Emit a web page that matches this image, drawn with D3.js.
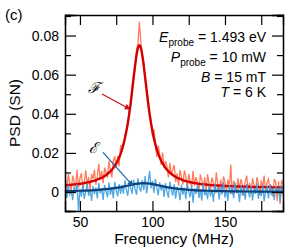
<!DOCTYPE html>
<meta charset="utf-8">
<style>
body { margin: 0; background: #fff; }
text { font-family: "Liberation Sans", Arial, sans-serif; }
.axis path { stroke: #000; stroke-width: 1.3; }
.axis line { stroke: #000; stroke-width: 1.2; }
.axis text { font-size: 14px; fill: #000; }
</style>
<body>
<script src="https://cdn.jsdelivr.net/npm/d3@7"></script>
<script>

// frequency grid (MHz)
var freq = [40,41,42,43,44,45,46,47,48,49,50,51,52,53,54,55,56,57,58,59,
  60,61,62,63,64,65,66,67,68,69,70,71,72,73,74,75,76,77,78,79,
  80,81,82,83,84,85,86,87,88,89,90,91,92,93,94,95,96,97,98,99,
  100,101,102,103,104,105,106,107,108,109,110,111,112,113,114,115,116,117,118,119,
  120,121,122,123,124,125,126,127,128,129,130,131,132,133,134,135,136,137,138,139,
  140,141,142,143,144,145,146,147,148,149,150,151,152,153,154,155,156,157,158,159,
  160,161,162,163,164,165,166,167,168,169,170,171,172,173,174,175,176,177,178,179,
  180,181,182,183,184,185,186,187,188,189,190];

// F : measured PSD (light red)
var psdF = [.0070,.0010,.0093,.0044,.0006,.0084,.0054,.0026,.0113,.0020,
  .0070,.0096,.0009,.0052,.0111,.0032,.0077,.0010,.0092,.0067,
  .0113,.0037,.0081,.0144,.0062,.0107,.0045,.0125,.0101,.0073,
  .0159,.0109,.0075,.0159,.0183,.0124,.0185,.0131,.0236,.0237,
  .0230,.0290,.0318,.0340,.0418,.0445,.0540,.0600,.0630,.0725,
  .0760,.0870,.0765,.0690,.0665,.0570,.0530,.0478,.0390,.0368,
  .0285,.0321,.0254,.0181,.0237,.0193,.0139,.0202,.0123,.0158,
  .0132,.0075,.0149,.0086,.0115,.0139,.0050,.0095,.0032,.0112,
  .0077,.0039,.0110,.0081,.0020,.0093,.0054,.0021,.0109,.0031,
  .0076,.0051,.0001,.0089,.0061,.0021,.0075,.0003,.0092,.0042,
  .0012,.0074,.0049,-.0009,.0101,.0040,.0005,.0064,.0015,.0080,
  .0053,-.0005,.0064,.0020,.0140,-.0012,.0056,.0037,-.0003,.0070,
  .0014,.0066,.0038,-.0019,.0056,.0083,.0002,.0047,-.0010,.0072,
  .0033,-.0005,.0076,.0043,-.0017,.0060,.0019,.0084,-.0004,.0049,
  .0066,.0004,.0037,-.0024,.0067,.0049,-.0046,.0055,-.0061,.0060,.0038];

// F : fit (dark red)
var fitF = [.0035,.0035,.0036,.0036,.0037,.0038,.0039,.0039,.0040,.0041,
  .0042,.0043,.0045,.0046,.0047,.0049,.0050,.0052,.0054,.0056,
  .0058,.0061,.0064,.0067,.0070,.0073,.0077,.0082,.0087,.0093,
  .0099,.0106,.0114,.0123,.0134,.0146,.0160,.0176,.0195,.0217,
  .0244,.0275,.0310,.0352,.0401,.0456,.0519,.0584,.0645,.0699,
  .0737,.0750,.0737,.0699,.0645,.0584,.0519,.0456,.0401,.0352,
  .0310,.0275,.0244,.0217,.0195,.0176,.0160,.0146,.0134,.0123,
  .0114,.0106,.0099,.0093,.0087,.0082,.0077,.0073,.0070,.0067,
  .0064,.0061,.0058,.0056,.0054,.0052,.0050,.0049,.0047,.0046,
  .0045,.0043,.0042,.0041,.0040,.0039,.0039,.0038,.0037,.0036,
  .0036,.0035,.0035,.0034,.0034,.0033,.0033,.0032,.0032,.0031,
  .0031,.0031,.0030,.0030,.0030,.0029,.0029,.0029,.0029,.0028,
  .0028,.0028,.0028,.0027,.0027,.0027,.0027,.0027,.0026,.0026,
  .0026,.0026,.0026,.0026,.0025,.0025,.0025,.0025,.0025,.0025,
  .0025,.0025,.0024,.0024,.0024,.0024,.0024,.0024,.0024,.0024,.0024];

// E : measured PSD (light blue)
var psdE = [.0021,-.0030,.0035,-.0012,.0008,-.0041,.0029,-.0005,.0040,-.0096,
  .0018,-.0024,.0032,-.0035,.0003,.0044,-.0020,.0015,-.0046,.0030,
  -.0011,.0024,-.0033,.0047,-.0006,.0019,-.0040,.0036,.0004,-.0027,
  .0049,-.0015,.0026,-.0031,.0052,.0009,-.0022,.0041,-.0010,.0035,
  -.0008,.0060,.0012,-.0019,.0055,.0020,-.0009,.0064,.0016,-.0014,
  .0070,.0023,.0002,.0061,.0010,.0082,-.0007,.0045,.0108,.0019,
  .0057,-.0004,.0066,.0021,-.0016,.0050,.0008,.0039,-.0025,.0046,
  .0002,-.0029,.0053,.0011,-.0018,.0040,-.0034,.0027,.0005,-.0042,
  .0038,-.0013,.0022,-.0037,.0043,.0001,-.0026,.0031,-.0055,.0020,
  -.0009,.0037,-.0030,.0014,-.0044,.0046,-.0017,.0007,-.0036,.0033,
  -.0022,.0016,-.0049,.0042,-.0003,.0025,-.0038,.0030,-.0014,.0051,
  -.0029,.0010,-.0045,.0036,-.0011,.0028,-.0032,.0047,-.0006,.0017,
  -.0052,.0034,-.0018,.0024,-.0039,.0041,.0004,-.0027,.0031,-.0043,
  .0020,-.0010,.0044,-.0035,.0013,-.0021,.0038,-.0048,.0009,.0026,
  -.0033,.0040,-.0016,.0018,-.0041,.0032,-.0008,.0023,-.0050,.0036,-.0012];

// E : fit (dark blue)
var fitEfreq = [40,50,60,70,75,80,85,90,94,98,103,108,113,118,128,138,148,160,175,190];
var fitE = [.00045,.00065,.00099,.00162,.00213,.0028,.0036,.00429,.0045,.00429,
  .0036,.0028,.00213,.00162,.00099,.00065,.00045,.00031,.00021,.00015];

var xMajor = [50,75,100,125,150,175];
var xLabels = [50,100,150];
var yMajor = [0,0.02,0.04,0.06,0.08];
var yMinor = [0.01,0.03,0.05,0.07,0.09];

var margin = {top: 15, right: 11, bottom: 39, left: 65},
    width = 294 - margin.left - margin.right,
    height = 250 - margin.top - margin.bottom;

var svg = d3.select("body").append("svg")
    .attr("width", 294)
    .attr("height", 250)
  .append("g")
    .attr("transform", "translate(" + margin.left + "," + margin.top + ")");

var x = d3.scaleLinear().domain([39.7, 190]).range([0, width]);
var y = d3.scaleLinear().domain([-0.0097, 0.0905]).range([height, 0]);

svg.append("clipPath").attr("id", "clip")
  .append("rect").attr("width", width).attr("height", height);

var plot = svg.append("g").attr("clip-path", "url(#clip)");

function line(xs, ys, curve) {
  return d3.line()
    .x(function(d, i) { return x(xs[i]); })
    .y(function(d, i) { return y(ys[i]); })
    .curve(curve || d3.curveLinear)(ys);
}

plot.append("path").attr("d", line(freq, psdF))
  .attr("fill", "none").attr("stroke", "#ff7b5c").attr("stroke-width", 1.3);
plot.append("path").attr("d", line(freq, fitF, d3.curveMonotoneX))
  .attr("fill", "none").attr("stroke", "#d40000").attr("stroke-width", 2.4);
plot.append("path").attr("d", line(freq, psdE))
  .attr("fill", "none").attr("stroke", "#3d9ede").attr("stroke-width", 1.3)
  .attr("stroke-opacity", 0.9);
plot.append("path").attr("d", line(fitEfreq, fitE, d3.curveMonotoneX))
  .attr("fill", "none").attr("stroke", "#0e3f78").attr("stroke-width", 2.2);

// axes, ticks pointing inward on all four sides
svg.append("g").attr("class", "axis")
  .attr("transform", "translate(0," + height + ")")
  .call(d3.axisBottom(x).tickValues(xMajor).tickSize(-10).tickPadding(6)
    .tickFormat(function(d) { return xLabels.indexOf(d) >= 0 ? d : ""; }));
svg.append("g").attr("class", "axis")
  .call(d3.axisTop(x).tickValues(xMajor).tickSize(-10).tickFormat(""));
svg.append("g").attr("class", "axis")
  .call(d3.axisLeft(y).tickValues(yMajor).tickSize(-11).tickPadding(6)
    .tickFormat(function(d) { return d === 0 ? "0" : d3.format(".2f")(d); }));
svg.append("g").attr("class", "axis")
  .call(d3.axisLeft(y).tickValues(yMinor).tickSize(-6).tickFormat(""));
svg.append("g").attr("class", "axis")
  .attr("transform", "translate(" + width + ",0)")
  .call(d3.axisRight(y).tickValues(yMajor).tickSize(-11).tickFormat(""));
svg.append("g").attr("class", "axis")
  .attr("transform", "translate(" + width + ",0)")
  .call(d3.axisRight(y).tickValues(yMinor).tickSize(-6).tickFormat(""));

svg.append("text")
  .attr("x", width / 2).attr("y", height + 33)
  .attr("text-anchor", "middle").style("font-size", "15.5px")
  .text("Frequency (MHz)");
svg.append("text")
  .attr("transform", "translate(-45," + (height / 2) + ") rotate(-90)")
  .attr("text-anchor", "middle").style("font-size", "15.5px")
  .text("PSD (SN)");
svg.append("text")
  .attr("x", -60).attr("y", 5)
  .style("font-size", "15px")
  .text("(c)");

// parameters
var params = svg.append("g").attr("transform", "translate(" + x(178.3) + ",0)")
  .style("font-size", "14px").attr("text-anchor", "end");
var t1 = params.append("text").attr("y", 27);
t1.append("tspan").style("font-style", "italic").text("E");
t1.append("tspan").attr("dy", 4).style("font-size", "10px").text("probe");
t1.append("tspan").attr("dy", -4).text(" = 1.493 eV");
var t2 = params.append("text").attr("y", 47);
t2.append("tspan").style("font-style", "italic").text("P");
t2.append("tspan").attr("dy", 4).style("font-size", "10px").text("probe");
t2.append("tspan").attr("dy", -4).text(" = 10 mW");
var t3 = params.append("text").attr("y", 67);
t3.append("tspan").style("font-style", "italic").text("B");
t3.append("tspan").text(" = 15 mT");
var t4 = params.append("text").attr("y", 82);
t4.append("tspan").style("font-style", "italic").text("T");
t4.append("tspan").text(" = 6 K");

// labels with arrows
var defs = svg.append("defs");
[["arrF", "#cc0c18"], ["arrE", "#1b5a98"]].forEach(function(a) {
  defs.append("marker").attr("id", a[0])
    .attr("viewBox", "0 0 10 10").attr("refX", 9).attr("refY", 5)
    .attr("markerWidth", 7).attr("markerHeight", 6)
    .attr("orient", "auto").attr("markerUnits", "userSpaceOnUse")
    .append("path").attr("d", "M0,0L10,5L0,10z").attr("fill", a[1]);
});

svg.append("text").attr("x", x(55.8)).attr("y", y(0.0505))
  .style("font-family", "DejaVu Serif").style("font-style", "italic")
  .style("font-size", "15px").text("\u2131");
svg.append("line")
  .attr("x1", x(65.2)).attr("y1", y(0.0501))
  .attr("x2", x(84.6)).attr("y2", y(0.0423))
  .attr("stroke", "#cc0c18").attr("stroke-width", 1.1)
  .attr("marker-end", "url(#arrF)");

svg.append("text").attr("x", x(56.3)).attr("y", y(0.0199))
  .style("font-family", "DejaVu Serif").style("font-style", "italic")
  .style("font-size", "15px").text("\u2130");
svg.append("line")
  .attr("x1", x(65.9)).attr("y1", y(0.0203))
  .attr("x2", x(86.6)).attr("y2", y(0.0031))
  .attr("stroke", "#1b5a98").attr("stroke-width", 1.1)
  .attr("marker-end", "url(#arrE)");

</script>
</body>
